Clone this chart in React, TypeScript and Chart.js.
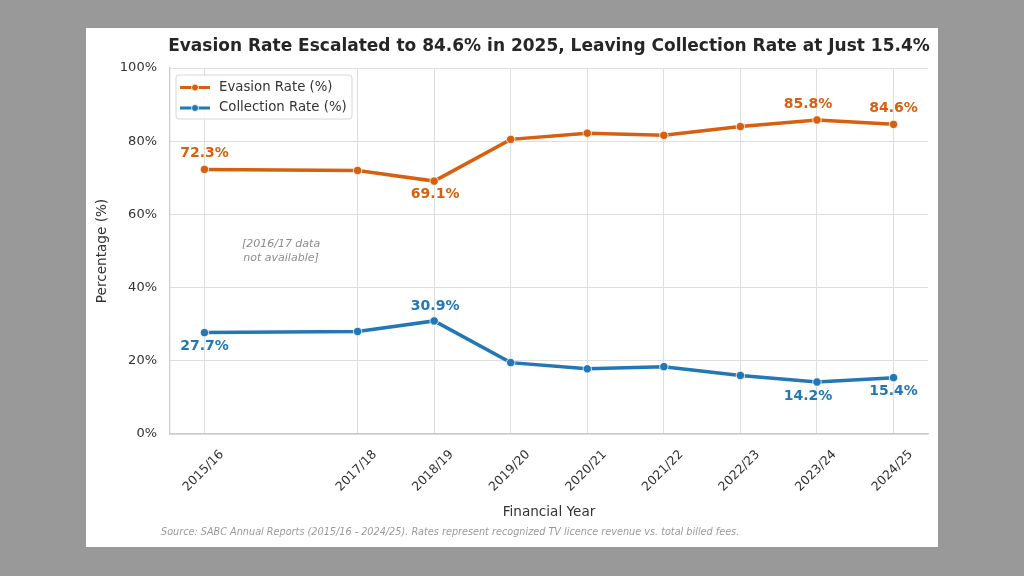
import React, { useEffect, useRef } from "react";
import { Chart, registerables } from "chart.js";

Chart.register(...registerables);

// ---- data ----
const yearLabels = ["2015/16", "2017/18", "2018/19", "2019/20", "2020/21", "2021/22", "2022/23", "2023/24", "2024/25"];
const yearStarts = [2015, 2017, 2018, 2019, 2020, 2021, 2022, 2023, 2024];
const evasionRate = [72.3, 72.0, 69.1, 80.5, 82.2, 81.6, 84.0, 85.8, 84.6];
const collectionRate = [27.7, 28.0, 30.9, 19.5, 17.8, 18.4, 16.0, 14.2, 15.4];
const yTickValues = [0, 20, 40, 60, 80, 100];
const seriesNames = ["Evasion Rate (%)", "Collection Rate (%)"];
const labelledEvasion = [0, 2, 7, 8];
const labelledCollection = [0, 2, 7, 8];

const TITLE = "Evasion Rate Escalated to 84.6% in 2025, Leaving Collection Rate at Just 15.4%";
const X_TITLE = "Financial Year";
const Y_TITLE = "Percentage (%)";
const SOURCE = "Source: SABC Annual Reports (2015/16 - 2024/25). Rates represent recognized TV licence revenue vs. total billed fees.";
const NOTE_LINES = ["[2016/17 data", "not available]"];
const NOTE_AT = { x: 2016, y: 50 };

// ---- style ----
const ORANGE = "#d6600f";
const BLUE = "#2277b4";
const FONT = "'DejaVu Sans', sans-serif";
const TEXT = "#333333";
const GRID = "#dedede";
const SPINE = "#cccccc";

// label placement offsets (px) per labelled point: [dx, dy]
const evasionOffsets: Record<number, [number, number]> = { 0: [0, -16], 2: [1, 13], 7: [-9, -16], 8: [0, -16] };
const collectionOffsets: Record<number, [number, number]> = { 0: [0, 14], 2: [1, -15], 7: [-9, 14], 8: [0, 14] };

const overlay = {
  id: "overlay",
  afterDraw(chart: any) {
    const { ctx, chartArea, scales } = chart;
    const xs = scales.x;
    const ys = scales.y;
    const cx = (chartArea.left + chartArea.right) / 2;

    ctx.save();
    // title
    ctx.fillStyle = "#262626";
    ctx.font = `bold 17px ${FONT}`;
    ctx.textAlign = "center";
    ctx.textBaseline = "middle";
    ctx.fillText(TITLE, cx, 18.5);

    // x tick labels (rotated 45°, centred on tick)
    ctx.font = `12.5px ${FONT}`;
    ctx.fillStyle = TEXT;
    yearStarts.forEach((yr, i) => {
      const px = xs.getPixelForValue(yr);
      ctx.save();
      ctx.translate(px - 1, chartArea.bottom + 37);
      ctx.rotate(-Math.PI / 4);
      ctx.textAlign = "center";
      ctx.textBaseline = "middle";
      ctx.fillText(yearLabels[i], 0, 0);
      ctx.restore();
    });

    // axis titles
    ctx.font = `13.6px ${FONT}`;
    ctx.fillStyle = TEXT;
    ctx.textAlign = "center";
    ctx.textBaseline = "middle";
    ctx.fillText(X_TITLE, cx, chartArea.bottom + 78);
    ctx.save();
    ctx.translate(16, (chartArea.top + chartArea.bottom) / 2);
    ctx.rotate(-Math.PI / 2);
    ctx.fillText(Y_TITLE, 0, 0);
    ctx.restore();

    // source
    ctx.font = `italic 9.7px ${FONT}`;
    ctx.fillStyle = "#9a9a9a";
    ctx.textAlign = "left";
    ctx.fillText(SOURCE, 75, chartArea.bottom + 98);

    // note
    ctx.font = `italic 11px ${FONT}`;
    ctx.fillStyle = "#8c8c8c";
    ctx.textAlign = "center";
    const nx = xs.getPixelForValue(NOTE_AT.x);
    const ny = ys.getPixelForValue(NOTE_AT.y);
    ctx.fillText(NOTE_LINES[0], nx, ny - 7);
    ctx.fillText(NOTE_LINES[1], nx, ny + 7);

    // data labels
    ctx.font = `bold 14px ${FONT}`;
    const drawLabels = (dsIndex: number, idxs: number[], offs: Record<number, [number, number]>, color: string, values: number[]) => {
      const meta = chart.getDatasetMeta(dsIndex);
      ctx.fillStyle = color;
      idxs.forEach((i) => {
        const pt = meta.data[i];
        const [dx, dy] = offs[i];
        ctx.fillText(values[i].toFixed(1) + "%", pt.x + dx, pt.y + dy);
      });
    };
    drawLabels(0, labelledEvasion, evasionOffsets, ORANGE, evasionRate);
    drawLabels(1, labelledCollection, collectionOffsets, BLUE, collectionRate);

    // legend
    const lx = chartArea.left + 6;
    const ly = chartArea.top + 7;
    const lw = 176;
    const lh = 44;
    ctx.beginPath();
    const r = 3;
    ctx.moveTo(lx + r, ly);
    ctx.lineTo(lx + lw - r, ly);
    ctx.quadraticCurveTo(lx + lw, ly, lx + lw, ly + r);
    ctx.lineTo(lx + lw, ly + lh - r);
    ctx.quadraticCurveTo(lx + lw, ly + lh, lx + lw - r, ly + lh);
    ctx.lineTo(lx + r, ly + lh);
    ctx.quadraticCurveTo(lx, ly + lh, lx, ly + lh - r);
    ctx.lineTo(lx, ly + r);
    ctx.quadraticCurveTo(lx, ly, lx + r, ly);
    ctx.closePath();
    ctx.fillStyle = "rgba(255,255,255,0.85)";
    ctx.fill();
    ctx.strokeStyle = "#d6d6d6";
    ctx.lineWidth = 1;
    ctx.stroke();

    const rows = [
      { name: seriesNames[0], color: ORANGE, y: ly + 12.5 },
      { name: seriesNames[1], color: BLUE, y: ly + 33 },
    ];
    rows.forEach((row) => {
      ctx.strokeStyle = row.color;
      ctx.lineWidth = 3;
      ctx.beginPath();
      ctx.moveTo(lx + 4, row.y);
      ctx.lineTo(lx + 34, row.y);
      ctx.stroke();
      ctx.beginPath();
      ctx.arc(lx + 19, row.y, 3.5, 0, Math.PI * 2);
      ctx.fillStyle = row.color;
      ctx.fill();
      ctx.strokeStyle = "#ffffff";
      ctx.lineWidth = 0.8;
      ctx.stroke();
      ctx.font = `13.3px ${FONT}`;
      ctx.fillStyle = TEXT;
      ctx.textAlign = "left";
      ctx.textBaseline = "middle";
      ctx.fillText(row.name, lx + 43, row.y);
    });

    ctx.restore();
  },
};

export default function App() {
  const canvasRef = useRef<HTMLCanvasElement | null>(null);

  useEffect(() => {
    if (!canvasRef.current) return;
    const chart = new Chart(canvasRef.current, {
      type: "line",
      data: {
        datasets: [
          {
            label: seriesNames[0],
            data: yearStarts.map((x, i) => ({ x, y: evasionRate[i] })),
            borderColor: ORANGE,
            backgroundColor: ORANGE,
            borderWidth: 3.5,
            pointRadius: 4.2,
            pointBorderColor: "#ffffff",
            pointBorderWidth: 0.8,
            pointBackgroundColor: ORANGE,
            tension: 0,
          },
          {
            label: seriesNames[1],
            data: yearStarts.map((x, i) => ({ x, y: collectionRate[i] })),
            borderColor: BLUE,
            backgroundColor: BLUE,
            borderWidth: 3.5,
            pointRadius: 4.2,
            pointBorderColor: "#ffffff",
            pointBorderWidth: 0.8,
            pointBackgroundColor: BLUE,
            tension: 0,
          },
        ],
      },
      options: {
        responsive: false,
        animation: false,
        events: [],
        layout: { padding: { left: 0, right: 10, top: 40, bottom: 0 } },
        plugins: {
          legend: { display: false },
          title: { display: false },
          tooltip: { enabled: false },
        },
        scales: {
          x: {
            type: "linear",
            min: 2014.55,
            max: 2024.45,
            afterBuildTicks: (scale: any) => {
              scale.ticks = yearStarts.map((v) => ({ value: v }));
            },
            afterFit: (scale: any) => {
              scale.height = 113;
            },
            ticks: {
              autoSkip: false,
              maxRotation: 0,
              minRotation: 0,
              color: "rgba(0,0,0,0)",
              callback: (v: any) => {
                const i = yearStarts.indexOf(Number(v));
                return i >= 0 ? yearLabels[i] : "";
              },
            },
            grid: { color: GRID, lineWidth: 1, drawTicks: false },
            border: { display: true, color: SPINE, width: 1.25 },
          },
          y: {
            type: "linear",
            min: 0,
            max: 100,
            afterBuildTicks: (scale: any) => {
              scale.ticks = yTickValues.map((v) => ({ value: v }));
            },
            afterFit: (scale: any) => {
              scale.width = 84;
            },
            ticks: {
              padding: 13,
              color: TEXT,
              font: { family: FONT, size: 13 },
              callback: (v: any) => `${v}%`,
            },
            grid: { color: GRID, lineWidth: 1, drawTicks: false },
            border: { display: true, color: SPINE, width: 1.25 },
          },
        },
      },
      plugins: [overlay],
    });
    return () => chart.destroy();
  }, []);

  return (
    <div
      style={{
        position: "absolute",
        left: 0,
        top: 0,
        width: 1024,
        height: 576,
        background: "#999999",
        overflow: "hidden",
      }}
    >
      <div
        style={{
          position: "absolute",
          left: 86,
          top: 28,
          width: 852,
          height: 519,
          background: "#ffffff",
        }}
      >
        <canvas ref={canvasRef} width={852} height={519} style={{ display: "block" }} />
      </div>
    </div>
  );
}
